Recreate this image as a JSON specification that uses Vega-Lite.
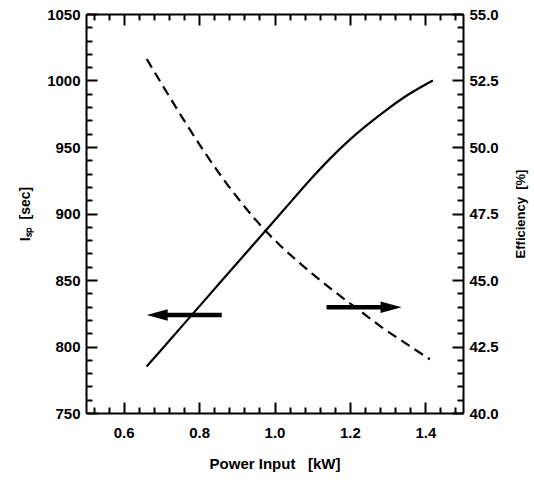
{
  "$schema": "https://vega.github.io/schema/vega-lite/v6.json",
  "width": 377,
  "height": 399,
  "autosize": {"type": "none"},
  "padding": {"left": 86, "top": 14, "right": 71, "bottom": 67},
  "background": "white",
  "view": {"stroke": null},
  "config": {
    "font": "Liberation Sans",
    "axis": {
      "domainColor": "black", "domainWidth": 2, "tickColor": "black", "tickWidth": 2,
      "labelFont": "Liberation Sans", "labelFontWeight": "bold", "labelFontSize": 15, "labelColor": "black",
      "titleFont": "Liberation Sans", "titleFontWeight": "bold", "titleFontSize": 13, "titleColor": "black",
      "grid": false, "labelFlush": false, "labelOverlap": false
    }
  },
  "datasets": {
    "isp": [
      {"power": 0.661, "isp": 785}, {"power": 0.70, "isp": 797.6}, {"power": 0.75, "isp": 813.8},
      {"power": 0.80, "isp": 830}, {"power": 0.85, "isp": 846.2}, {"power": 0.90, "isp": 862.4},
      {"power": 0.95, "isp": 878.6}, {"power": 1.00, "isp": 894.8}, {"power": 1.05, "isp": 911},
      {"power": 1.10, "isp": 927}, {"power": 1.15, "isp": 942}, {"power": 1.20, "isp": 955.5},
      {"power": 1.25, "isp": 967.5}, {"power": 1.30, "isp": 978.5}, {"power": 1.35, "isp": 988.5},
      {"power": 1.42, "isp": 1000}
    ],
    "eff": [
      {"power": 0.661, "eff": 53.31}, {"power": 0.705, "eff": 52.27}, {"power": 0.758, "eff": 51.05},
      {"power": 0.811, "eff": 49.88}, {"power": 0.864, "eff": 48.8}, {"power": 0.90, "eff": 48.13},
      {"power": 0.944, "eff": 47.36}, {"power": 0.975, "eff": 46.87}, {"power": 1.015, "eff": 46.3},
      {"power": 1.06, "eff": 45.72}, {"power": 1.103, "eff": 45.2}, {"power": 1.15, "eff": 44.67},
      {"power": 1.191, "eff": 44.22}, {"power": 1.24, "eff": 43.7}, {"power": 1.28, "eff": 43.27},
      {"power": 1.35, "eff": 42.6}, {"power": 1.412, "eff": 42.02}
    ],
    "arrows": [
      {"dir": "left", "tip": 0.661, "start": 0.70, "end": 0.86, "isp": 823.7},
      {"dir": "right", "tip": 1.337, "start": 1.138, "end": 1.30, "isp": 829.5}
    ]
  },
  "layer": [
    {
      "data": {"name": "isp"},
      "mark": {"type": "line", "color": "black", "strokeWidth": 2.2, "interpolate": "monotone"},
      "encoding": {
        "x": {
          "field": "power", "type": "quantitative",
          "scale": {"domain": [0.5, 1.5], "nice": false, "zero": false},
          "axis": {
            "orient": "bottom", "title": "Power Input\u00a0\u00a0\u00a0[kW]", "titlePadding": 11, "titleFontSize": 15,
            "values": [0.52,0.56,0.6,0.64,0.68,0.72,0.76,0.8,0.84,0.88,0.92,0.96,1.0,1.04,1.08,1.12,1.16,1.2,1.24,1.28,1.32,1.36,1.4,1.44,1.48],
            "labelExpr": "abs(datum.value*5 - round(datum.value*5)) < 0.001 ? format(datum.value, '.1f') : ''",
            "tickSize": {"condition": {"test": "abs(datum.value*5 - round(datum.value*5)) < 0.001", "value": -11}, "value": -6},
            "labelPadding": 23
          }
        },
        "y": {
          "field": "isp", "type": "quantitative",
          "scale": {"domain": [750, 1050], "nice": false, "zero": false},
          "axis": {
            "orient": "left", "title": "Iₛₚ\u00a0\u00a0[sec]", "titlePadding": 14, "titleFontSize": 14,
            "values": [750,760,770,780,790,800,810,820,830,840,850,860,870,880,890,900,910,920,930,940,950,960,970,980,990,1000,1010,1020,1030,1040,1050],
            "labelExpr": "datum.value % 50 == 0 ? format(datum.value, 'd') : ''",
            "tickSize": {"condition": {"test": "datum.value % 50 == 0", "value": -11}, "value": -6},
            "labelPadding": 17
          }
        }
      }
    },
    {
      "data": {"name": "eff"},
      "mark": {"type": "line", "color": "black", "strokeWidth": 2.2, "strokeDash": [10, 6], "interpolate": "monotone"},
      "encoding": {
        "x": {
          "field": "power", "type": "quantitative",
          "scale": {"domain": [0.5, 1.5], "nice": false, "zero": false},
          "axis": {
            "orient": "top", "title": null, "labels": false,
            "values": [0.52,0.56,0.6,0.64,0.68,0.72,0.76,0.8,0.84,0.88,0.92,0.96,1.0,1.04,1.08,1.12,1.16,1.2,1.24,1.28,1.32,1.36,1.4,1.44,1.48],
            "tickSize": {"condition": {"test": "abs(datum.value*5 - round(datum.value*5)) < 0.001", "value": -11}, "value": -6}
          }
        },
        "y": {
          "field": "eff", "type": "quantitative",
          "scale": {"domain": [40, 55], "nice": false, "zero": false},
          "axis": {
            "orient": "right", "title": "Efficiency\u00a0\u00a0[%]", "titlePadding": 16, "titleAngle": 270, "titleBaseline": "top",
            "values": [40,40.5,41,41.5,42,42.5,43,43.5,44,44.5,45,45.5,46,46.5,47,47.5,48,48.5,49,49.5,50,50.5,51,51.5,52,52.5,53,53.5,54,54.5,55],
            "labelExpr": "abs(datum.value/2.5 - round(datum.value/2.5)) < 0.001 ? format(datum.value, '.1f') : ''",
            "tickSize": {"condition": {"test": "abs(datum.value/2.5 - round(datum.value/2.5)) < 0.001", "value": -11}, "value": -6},
            "labelPadding": 17
          }
        }
      }
    },
    {
      "data": {"name": "arrows"},
      "mark": {"type": "rule", "color": "black", "strokeWidth": 4.5},
      "encoding": {
        "x": {"field": "start", "type": "quantitative", "axis": null},
        "x2": {"field": "end"},
        "y": {"field": "isp", "type": "quantitative", "axis": null, "scale": {"domain": [750, 1050], "nice": false, "zero": false}}
      }
    },
    {
      "data": {"name": "arrows"},
      "transform": [{"filter": "datum.dir == 'left'"}],
      "mark": {"type": "point", "filled": true, "color": "black", "opacity": 1, "size": 441, "shape": "M0,0L2,-0.55L2,0.55Z"},
      "encoding": {
        "x": {"field": "tip", "type": "quantitative", "axis": null},
        "y": {"field": "isp", "type": "quantitative", "axis": null, "scale": {"domain": [750, 1050], "nice": false, "zero": false}}
      }
    },
    {
      "data": {"name": "arrows"},
      "transform": [{"filter": "datum.dir == 'right'"}],
      "mark": {"type": "point", "filled": true, "color": "black", "opacity": 1, "size": 441, "shape": "M0,0L-2,-0.55L-2,0.55Z"},
      "encoding": {
        "x": {"field": "tip", "type": "quantitative", "axis": null},
        "y": {"field": "isp", "type": "quantitative", "axis": null, "scale": {"domain": [750, 1050], "nice": false, "zero": false}}
      }
    }
  ],
  "resolve": {"scale": {"y": "independent"}, "axis": {"x": "independent", "y": "independent"}}
}
